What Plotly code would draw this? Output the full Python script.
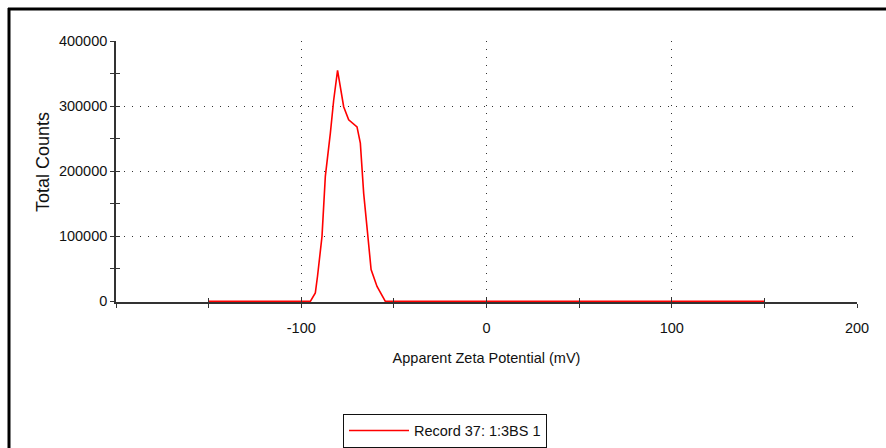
import plotly.graph_objects as go

# Data
zeta_mv = [-150, -95.1, -92.4, -91.2, -88.8, -87.0, -84.3, -82.5, -80.4, -78.9,
           -77.1, -74.4, -69.9, -68.1, -66.3, -64.2, -62.3, -59.1, -54.6, 150]
total_counts = [0, 0, 13000, 39000, 100000, 192000, 258000, 309000, 355000, 330000,
                299000, 279000, 268000, 243000, 166000, 105000, 49000, 23000, 0, 0]
series_name = "Record 37: 1:3BS 1"
x_ticks = [-100, 0, 100, 200]
x_tick_text = ["-100", "0", "100", "200"]
y_ticks = [0, 100000, 200000, 300000, 400000]
y_tick_text = ["0", "100000", "200000", "300000", "400000"]
x_title = "Apparent Zeta Potential (mV)"
y_title = "Total Counts"

FONT = "Liberation Sans, Arial, sans-serif"
AX = "#333333"
TXT = "#111111"
FS = 14.5

# plot area in pixels
L, R, T, B = 116, 857, 41, 302
PW, PH = R - L, B - T


def px(xp):
    return (xp - L) / PW


def py(yp):
    return (B - yp) / PH


fig = go.Figure()
fig.add_trace(go.Scatter(x=zeta_mv, y=total_counts, mode="lines", name=series_name,
                         line=dict(color="#ff0000", width=1.6)))
# helper trace for overlaid axes that draw the inner half of the crossing ticks
fig.add_trace(go.Scatter(x=[], y=[], xaxis="x2", yaxis="y2", showlegend=False,
                         hoverinfo="skip"))

common = dict(showline=True, linecolor=AX, linewidth=1.6, ticks="outside", ticklen=4,
              tickcolor=AX, tickwidth=1, zeroline=False, automargin=False,
              tickfont=dict(family=FONT, size=FS, color=TXT))

Y_MIN = -900

fig.update_layout(
    width=886, height=448,
    margin=dict(l=L, r=886 - R, t=T, b=448 - B, autoexpand=False),
    paper_bgcolor="white", plot_bgcolor="white",
    font=dict(family=FONT, size=FS, color=TXT),
    xaxis=dict(range=[-200, 200], tickvals=x_ticks, ticktext=x_tick_text, showgrid=True,
               gridcolor="#333", gridwidth=1, griddash="1px,7px",
               minor=dict(dtick=50, ticks="outside", ticklen=4, tickcolor=AX, showgrid=False),
               title=dict(text=x_title, standoff=18,
                          font=dict(family=FONT, size=FS, color=TXT)),
               layer="below traces", ticklabelstandoff=8, **common),
    yaxis=dict(range=[Y_MIN, 400000], tickvals=y_ticks, ticktext=y_tick_text, showgrid=True,
               gridcolor="#333", gridwidth=1, griddash="1px,7px",
               minor=dict(dtick=50000, ticks="outside", ticklen=4, tickcolor=AX, showgrid=False),
               layer="below traces", **common),
    xaxis2=dict(overlaying="x", range=[-200, 200], dtick=50, ticks="inside", ticklen=4,
                tickcolor=AX, showticklabels=False, showgrid=False, zeroline=False,
                anchor="y2", side="bottom", showline=False, automargin=False),
    yaxis2=dict(overlaying="y", range=[Y_MIN, 400000], tick0=0, dtick=50000, ticks="inside",
                ticklen=4, tickcolor=AX, showticklabels=False, showgrid=False, zeroline=False,
                anchor="x2", side="left", showline=False, automargin=False),
    showlegend=True,
    legend=dict(x=px(343), y=py(430.5), xanchor="left", yanchor="middle",
                bordercolor="#111", borderwidth=1, bgcolor="white",
                itemwidth=60, font=dict(family=FONT, size=FS, color=TXT)),
    annotations=[
        dict(text=y_title, textangle=-90, xref="paper", yref="paper",
             x=px(43), y=py(162), xanchor="center", yanchor="middle",
             showarrow=False, font=dict(family=FONT, size=18, color=TXT)),
    ],
    shapes=[
        dict(type="line", xref="paper", yref="paper",
             x0=px(9), x1=px(9), y0=py(8), y1=py(460),
             line=dict(color="black", width=3)),
        dict(type="line", xref="paper", yref="paper",
             x0=px(8), x1=px(900), y0=py(9), y1=py(9),
             line=dict(color="black", width=3)),
    ],
)

fig.write_html("out.html")
